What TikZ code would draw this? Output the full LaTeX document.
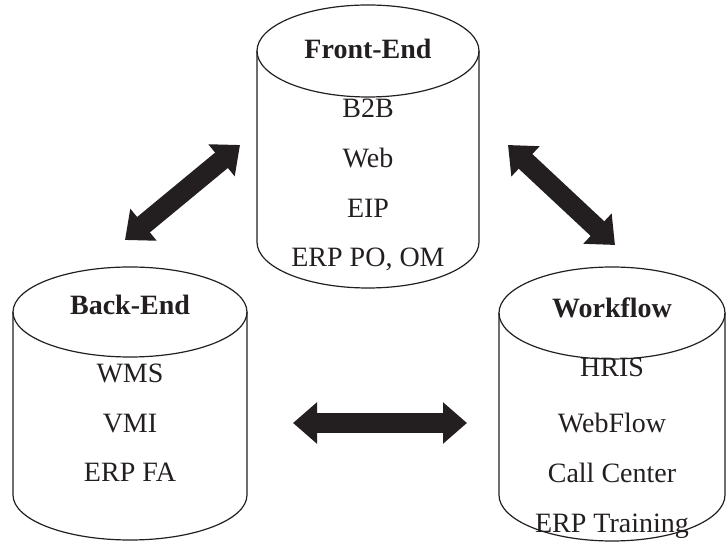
\documentclass[tikz,border=0pt]{standalone}
\usepackage{fontspec}
\setmainfont{Liberation Serif}
\usetikzlibrary{arrows.meta}
\definecolor{ink}{HTML}{231F20}
\newcommand\dbcyl[5]{% cx, rx, topY, botY, ry
  \draw[cyl] (#1,#3) ellipse[x radius=#2, y radius=#5];
  \draw[cyl] (#1-#2,#3) -- (#1-#2,#4) arc[start angle=180,end angle=360,x radius=#2,y radius=#5] -- (#1+#2,#3);}
\begin{document}
\begin{tikzpicture}[x=1pt,y=1pt,
  cyl/.style={line width=1.2pt, draw=ink},
  lbl/.style={anchor=base, font=\fontsize{28}{30}\selectfont, inner sep=0pt, text=ink},
  ttl/.style={anchor=base, font=\fontsize{28}{30}\selectfont\bfseries, inner sep=0pt, text=ink},
  bigarrow/.style={line width=20pt, draw=ink, {Triangle[width=40pt,length=24pt]}-{Triangle[width=40pt,length=24pt]}}]
\useasboundingbox (0,0) rectangle (726,543);
% cylinders
\dbcyl{368}{111}{492}{301}{46}
\dbcyl{130}{117}{231}{48}{45}
\dbcyl{612}{113}{230}{48}{46}
% Front-End
\node[ttl] (fe) at (368,484) {Front-End};
\node[lbl] (fe1) at (368,425) {B2B};
\node[lbl] (fe2) at (368,375) {Web};
\node[lbl] (fe3) at (368,325) {EIP};
\node[lbl] (fe4) at (368,276) {ERP PO, OM};
% Back-End
\node[ttl] (be) at (130,228) {Back-End};
\node[lbl] (be1) at (130,160) {WMS};
\node[lbl] (be2) at (130,110) {VMI};
\node[lbl] (be3) at (130,61) {ERP FA};
% Workflow
\node[ttl] (wf) at (612,225) {Workflow};
\node[lbl] (wf1) at (612,166) {HRIS};
\node[lbl] (wf2) at (612,110) {WebFlow};
\node[lbl] (wf3) at (612,60) {Call Center};
\node[lbl] (wf4) at (612,10) {ERP Training};
% arrows
\coordinate (a1s) at (125,303);
\coordinate (a1e) at (240,398);
\coordinate (a2s) at (508,398);
\coordinate (a2e) at (615,298);
\coordinate (a3s) at (293,120);
\coordinate (a3e) at (467,120);
\draw[bigarrow] (a1s) -- (a1e);
\draw[bigarrow] (a2s) -- (a2e);
\draw[bigarrow] (a3s) -- (a3e);
\end{tikzpicture}
\end{document}
